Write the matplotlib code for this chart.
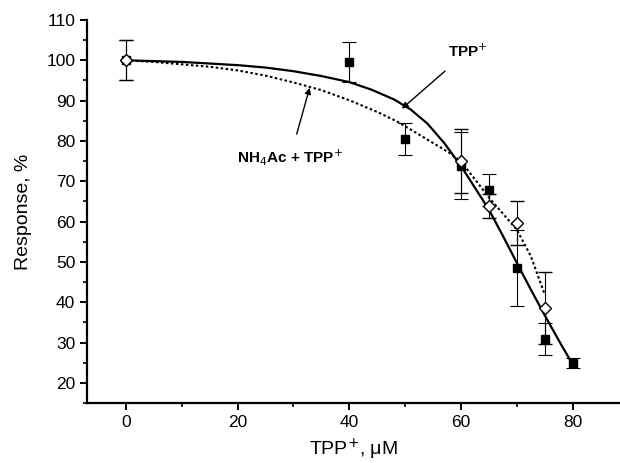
import matplotlib.pyplot as plt
from matplotlib.ticker import MultipleLocator

plt.rcParams['font.family'] = ['Liberation Sans', 'DejaVu Sans']

# TPP+ alone (filled squares)
tpp_x = [0, 40, 50, 60, 65, 70, 75, 80]
tpp_y = [100, 99.6, 80.4, 73.8, 67.8, 48.5, 30.9, 24.9]
tpp_err = [5, 5, 4, 8.3, 4, 9.5, 4, 1.3]

# NH4Ac + TPP+ (open diamonds)
nh_x = [0, 60, 65, 70, 75]
nh_y = [100, 75.0, 63.9, 59.6, 38.6]
nh_err = [5, 7.9, 3, 5.4, 9]

# fitted curves
fit_tpp_x = [0, 10, 20, 25, 30, 35, 40, 44, 48, 51, 54, 57, 60, 62, 65,
             67.5, 70, 72.5, 75, 77.5, 80]
fit_tpp_y = [100, 99.6, 98.8, 98.2, 97.3, 96.1, 94.6, 92.7, 90.3, 87.8, 84.3,
             79.5, 73.8, 69.5, 63.0, 56.5, 49.8, 43.2, 36.8, 30.6, 24.6]
fit_nh_x = [0, 5, 10, 15, 20, 25, 30, 35, 40, 45, 48.6, 52, 55, 58, 60,
            62.5, 65, 67.5, 70, 72.5, 75]
fit_nh_y = [100, 99.6, 99.0, 98.4, 97.5, 96.2, 94.5, 92.6, 90.1, 87.2, 84.8,
            82.0, 79.5, 77.0, 74.9, 70.5, 66.0, 62.0, 58.0, 51.5, 42.0]

fig = plt.figure(figsize=(6.2, 4.63), dpi=100)
ax = fig.add_axes([0.1403, 0.1296, 0.8597, 0.8272])

ax.plot(fit_tpp_x, fit_tpp_y, color='black', lw=1.6, zorder=2)
ax.plot(fit_nh_x, fit_nh_y, color='black', lw=1.5, ls=(0, (1.2, 1.2)), zorder=2)

ax.errorbar(tpp_x, tpp_y, yerr=tpp_err, fmt='s', color='black', ms=5.8,
            elinewidth=0.8, capsize=5, capthick=0.8, zorder=3)
ax.errorbar(nh_x, nh_y, yerr=nh_err, fmt='D', mfc='white', mec='black', ecolor='black',
            ms=6, mew=1.0, elinewidth=0.8, capsize=5, capthick=0.8, zorder=4)

ax.annotate('TPP$^{+}$', xy=(49.4, 88.0), xytext=(61.2, 102.2),
            ha='center', va='center', fontsize=11, fontweight='bold',
            arrowprops=dict(arrowstyle='-|>', color='black', lw=1.0,
                            shrinkA=9, shrinkB=0, mutation_scale=9))
ax.annotate('NH$_4$Ac + TPP$^{+}$', xy=(32.9, 93.2), xytext=(29.4, 75.9),
            ha='center', va='center', fontsize=11, fontweight='bold',
            arrowprops=dict(arrowstyle='-|>', color='black', lw=1.0,
                            shrinkA=8, shrinkB=0, mutation_scale=9))

ax.set_xlim(-7, 88.5)
ax.set_ylim(15, 110)
ax.xaxis.set_major_locator(MultipleLocator(20))
ax.xaxis.set_minor_locator(MultipleLocator(10))
ax.yaxis.set_major_locator(MultipleLocator(10))
ax.yaxis.set_minor_locator(MultipleLocator(5))
ax.set_yticks(range(20, 111, 10))

for s in ['top', 'right']:
    ax.spines[s].set_visible(False)
for s in ['left', 'bottom']:
    ax.spines[s].set_linewidth(1.6)
ax.tick_params(which='major', direction='out', length=5, width=1.4, labelsize=12.5)
ax.tick_params(which='minor', direction='out', length=3, width=1.2)

ax.set_xlabel('TPP$^{+}$, \u03bcM', fontsize=14, labelpad=5)
ax.set_ylabel('Response, %', fontsize=14, labelpad=10)

fig.savefig('out.png', dpi=100)
